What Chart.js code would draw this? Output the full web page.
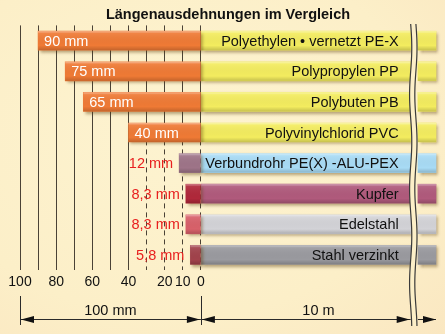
<!DOCTYPE html>
<html>
<head>
<meta charset="utf-8">
<script src="https://cdn.jsdelivr.net/npm/chart.js@4/dist/chart.umd.min.js"></script>
<style>
html, body { margin: 0; padding: 0; }
body { width: 445px; height: 334px; overflow: hidden; background: #fcf0c9; }
#wrap { width: 445px; height: 334px; background: radial-gradient(ellipse at 40% 40%, #fdf3d0 0%, #fcefc8 65%, #fae7c1 100%); }
</style>
</head>
<body>
<div id="wrap"><canvas id="chart" width="445" height="334"></canvas></div>
<script>
// data
var materials = ['Polyethylen \u2022 vernetzt PE-X', 'Polypropylen PP', 'Polybuten PB', 'Polyvinylchlorid PVC',
                 'Verbundrohr PE(X) -ALU-PEX', 'Kupfer', 'Edelstahl', 'Stahl verzinkt'];
var expansionMm = [90, 75, 65, 40, 12, 8.3, 8.3, 5.8];   // per 10 m pipe
var shownTicks = [100, 80, 60, 40, 20, 10, 0];
var mmSpanLabel = '100 mm';
var pipeSpanLabel = '10 m';

// axis layout: left part in mm, right part is the (broken) 10 m pipe
var mmMin = -100;
var pipeEnd = 130;
var breakFrom = 116, breakTo = 120;

var leftColors = ['#ef7a35', '#ef7a35', '#ef7a35', '#ef7a35', '#9e7488', '#b0283a', '#d8616a', '#a1424b'];
var pipeColors = ['#f3ec5f', '#f3ec5f', '#f3ec5f', '#f3ec5f', '#a8dbf5', '#b05a7c', '#d3d3d7', '#9a9a9f'];

var FONT = "'Liberation Sans', Arial, sans-serif";
Chart.defaults.font.family = FONT;

// lines right of 40 mm: solid at the top, dashed further down
var lowerDash = [120, 4];
for (var k = 0; k < 20; k++) lowerDash.push(5, 4);

var barLook = {
  id: 'barLook',
  beforeDatasetDraw: function(chart) {
    var ctx = chart.ctx;
    ctx.save();
    ctx.shadowColor = 'rgba(90,60,10,0.45)';
    ctx.shadowBlur = 3;
    ctx.shadowOffsetX = 2;
    ctx.shadowOffsetY = 2;
  },
  afterDatasetDraw: function(chart) {
    chart.ctx.restore();
  },
  afterDatasetsDraw: function(chart) {
    var ctx = chart.ctx;
    var xs = chart.scales.x;
    // bevel on every bar
    chart.data.datasets.forEach(function(ds, di) {
      chart.getDatasetMeta(di).data.forEach(function(el) {
        var p = el.getProps(['x', 'y', 'base', 'height'], true);
        var l = Math.min(p.x, p.base), r = Math.max(p.x, p.base);
        var t = p.y - p.height / 2;
        var g = ctx.createLinearGradient(0, t, 0, t + p.height);
        g.addColorStop(0, 'rgba(255,255,255,0.45)');
        g.addColorStop(0.12, 'rgba(255,255,255,0.08)');
        g.addColorStop(0.75, 'rgba(0,0,0,0)');
        g.addColorStop(1, 'rgba(0,0,0,0.18)');
        ctx.fillStyle = g;
        ctx.fillRect(l, t, r - l, p.height);
      });
    });
    // value labels
    ctx.save();
    ctx.font = '14.5px ' + FONT;
    ctx.textBaseline = 'middle';
    chart.getDatasetMeta(0).data.forEach(function(el, i) {
      var v = expansionMm[i];
      var txt = String(v).replace('.', ',') + ' mm';
      var left = xs.getPixelForValue(-v);
      if (v >= 20) {
        ctx.fillStyle = '#ffffff';
        ctx.textAlign = 'left';
        ctx.fillText(txt, left + 6, el.y + 1);
      } else {
        ctx.fillStyle = '#e8201f';
        ctx.textAlign = 'right';
        ctx.fillText(txt, left - 6, el.y + 1);
      }
    });
    // material names
    ctx.fillStyle = '#111111';
    ctx.textAlign = 'right';
    chart.getDatasetMeta(1).data.forEach(function(el, i) {
      ctx.fillText(materials[i], xs.getPixelForValue(breakFrom) - 12, el.y + 1);
    });
    ctx.restore();
  },
  afterDraw: function(chart) {
    var ctx = chart.ctx;
    var xs = chart.scales.x;
    var x100 = xs.getPixelForValue(mmMin), x0 = xs.getPixelForValue(0);
    var xb1 = xs.getPixelForValue(breakFrom), xb2 = xs.getPixelForValue(breakTo);
    var xe = xs.getPixelForValue(pipeEnd);
    var y = 319;
    ctx.save();
    ctx.strokeStyle = '#2a2a2a';
    ctx.fillStyle = '#111';
    ctx.lineWidth = 1;
    // end marks
    [x100, x0].forEach(function(x) {
      ctx.beginPath();
      ctx.moveTo(Math.round(x) + 0.5, 296);
      ctx.lineTo(Math.round(x) + 0.5, 325);
      ctx.stroke();
    });
    function arrow(x, dir) {
      ctx.beginPath();
      ctx.moveTo(x, y + 0.5);
      ctx.lineTo(x - dir * 13, y - 3);
      ctx.lineTo(x - dir * 13, y + 4);
      ctx.closePath();
      ctx.fill();
    }
    function line(a, b) {
      ctx.beginPath();
      ctx.moveTo(a, y + 0.5);
      ctx.lineTo(b, y + 0.5);
      ctx.stroke();
    }
    line(x100, x0); arrow(x100 + 1, -1); arrow(x0 - 1, 1);
    line(x0, xb1); arrow(x0 + 1, -1); arrow(xb1 - 1, 1);
    line(xb2, xe); arrow(xe, 1);
    ctx.font = '14.5px ' + FONT;
    ctx.textAlign = 'center';
    ctx.textBaseline = 'alphabetic';
    ctx.fillText(mmSpanLabel, (x100 + x0) / 2, 315);
    ctx.fillText(pipeSpanLabel, (x0 + xe) / 2, 315);

    // break mark
    var y0 = 24, y1 = 326;
    function wx(base, yy) { return base + Math.sin((yy - y0) / 15) * 1.1; }
    ctx.beginPath();
    for (var yy = y0; yy <= y1; yy += 2) {
      if (yy === y0) ctx.moveTo(wx(xb1, yy), yy); else ctx.lineTo(wx(xb1, yy), yy);
    }
    for (var yy2 = y1; yy2 >= y0; yy2 -= 2) ctx.lineTo(wx(xb2 - 2, yy2), yy2);
    ctx.closePath();
    ctx.fillStyle = '#fcefc8';
    ctx.fill();
    ctx.strokeStyle = '#3a3a3a';
    ctx.lineWidth = 1.2;
    [xb1, xb2 - 2].forEach(function(bx) {
      ctx.beginPath();
      for (var yy = y0; yy <= y1; yy += 2) {
        if (yy === y0) ctx.moveTo(wx(bx, yy), yy); else ctx.lineTo(wx(bx, yy), yy);
      }
      ctx.stroke();
    });
    ctx.restore();
  }
};

new Chart(document.getElementById('chart'), {
  type: 'bar',
  data: {
    labels: materials,
    datasets: [
      {
        data: expansionMm.map(function(v) { return [-v, 0]; }),
        backgroundColor: leftColors
      },
      {
        data: materials.map(function() { return [0, breakFrom]; }),
        backgroundColor: pipeColors
      },
      {
        data: materials.map(function() { return [breakTo, pipeEnd]; }),
        backgroundColor: pipeColors
      }
    ]
  },
  options: {
    indexAxis: 'y',
    responsive: false,
    animation: false,
    layout: { padding: { left: 20, right: 9, top: 0, bottom: 39 } },
    datasets: { bar: { grouped: false, barThickness: 19, borderWidth: 0, clip: false } },
    plugins: {
      legend: { display: false },
      tooltip: { enabled: false },
      title: {
        display: true,
        text: 'L\u00e4ngenausdehnungen im Vergleich',
        color: '#111',
        font: { size: 14.5, weight: 'bold' },
        padding: { top: 6, bottom: 2 }
      }
    },
    scales: {
      y: { display: false },
      x: {
        type: 'linear',
        min: mmMin,
        max: pipeEnd,
        afterBuildTicks: function(scale) {
          scale.ticks = scale.ticks.filter(function(t) { return t.value <= 0; });
        },
        ticks: {
          stepSize: 10,
          autoSkip: false,
          maxRotation: 0,
          padding: 4,
          color: '#111',
          font: { size: 14 },
          callback: function(v) { return shownTicks.indexOf(-v) >= 0 ? String(-v) : ''; }
        },
        grid: { color: '#4a4236', lineWidth: 1, drawTicks: false },
        border: {
          display: false,
          dash: function(c) { return c.tick && c.tick.value > -40 ? lowerDash : []; }
        }
      }
    }
  },
  plugins: [barLook]
});
</script>
</body>
</html>
